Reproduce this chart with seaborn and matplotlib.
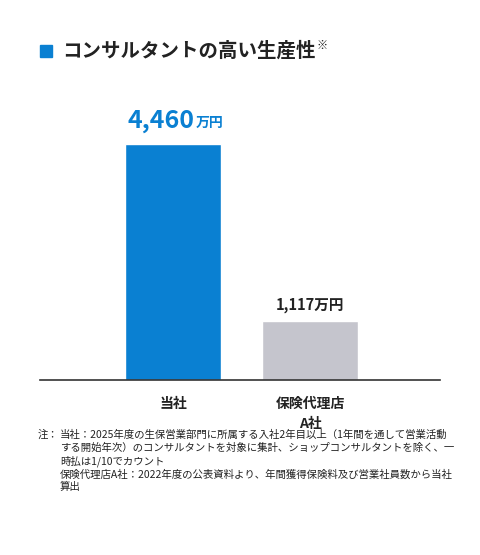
import matplotlib
matplotlib.use("Agg")
import matplotlib.pyplot as plt
import seaborn as sns
import pandas as pd

categories = ["当社", "保険代理店\nA社"]
values = [4460, 1117]
value_labels = ["4,460", "1,117"]
colors = ["#0a80d2", "#c5c5cd"]

sns.set_theme(style="white")
plt.rcParams['font.family'] = ['Noto Sans CJK JP', 'DejaVu Sans']

fig = plt.figure(figsize=(4.8, 5.55), dpi=100)
ax = fig.add_axes([40/480, 175/555, 400/480, 264.6/555])
df = pd.DataFrame({"cat": categories, "val": values})
sns.barplot(data=df, x="cat", y="val", hue="cat", palette=colors, width=0.7,
            legend=False, ax=ax, saturation=1)
ax.set_xlim(-0.971, 1.949)
ax.set_ylim(0, 5000)
for s in ["top", "right", "left"]:
    ax.spines[s].set_visible(False)
ax.spines["bottom"].set_color("#333333")
ax.spines["bottom"].set_linewidth(1.2)
ax.set_yticks([])
ax.set_xlabel("")
ax.set_ylabel("")
ax.tick_params(axis="x", length=0, pad=12)
ax.set_xticks([0, 1])
ax.set_xticklabels(categories, fontsize=10, fontweight="bold", color="#222222", linespacing=1.6)

# value labels
big = [True, False]
for i, (v, lab) in enumerate(zip(values, value_labels)):
    if big[i]:
        ax.annotate(lab, (i, v), xytext=(-9, 8), textcoords="offset points",
                    ha="center", va="bottom", fontsize=18, fontweight="bold", color="#0a80d2")
        ax.annotate("万円", (i, v), xytext=(26, 10), textcoords="offset points",
                    ha="center", va="bottom", fontsize=10, fontweight="bold", color="#0a80d2")
    else:
        ax.annotate(lab + "万円", (i, v), xytext=(0, 6), textcoords="offset points",
                    ha="center", va="bottom", fontsize=10.5, fontweight="bold", color="#222222")

# title
fig.patches.append(plt.Rectangle((40/480, 1 - 57/555), 12/480, 12/555,
                                 transform=fig.transFigure, color="#0a80d2"))
fig.text(62/480, 1 - 51/555, "コンサルタントの高い生産性", fontsize=14, fontweight="bold",
         color="#222222", va="center")
fig.text(316/480, 1 - 45/555, "※", fontsize=8, fontweight="bold", color="#222222", va="center")

# footnote
fig.text(38/480, 1 - 430/555, "注：", fontsize=7.5, color="#222222", va="top")
note = ("当社：2025年度の生保営業部門に所属する入社2年目以上（1年間を通して営業活動\n"
        "する開始年次）のコンサルタントを対象に集計、ショップコンサルタントを除く、一\n"
        "時払は1/10でカウント\n"
        "保険代理店A社：2022年度の公表資料より、年間獲得保険料及び営業社員数から当社\n"
        "算出")
fig.text(60/480, 1 - 430/555, note, fontsize=7.5, color="#222222", va="top", linespacing=1.3)

fig.savefig("out.png", dpi=100)
